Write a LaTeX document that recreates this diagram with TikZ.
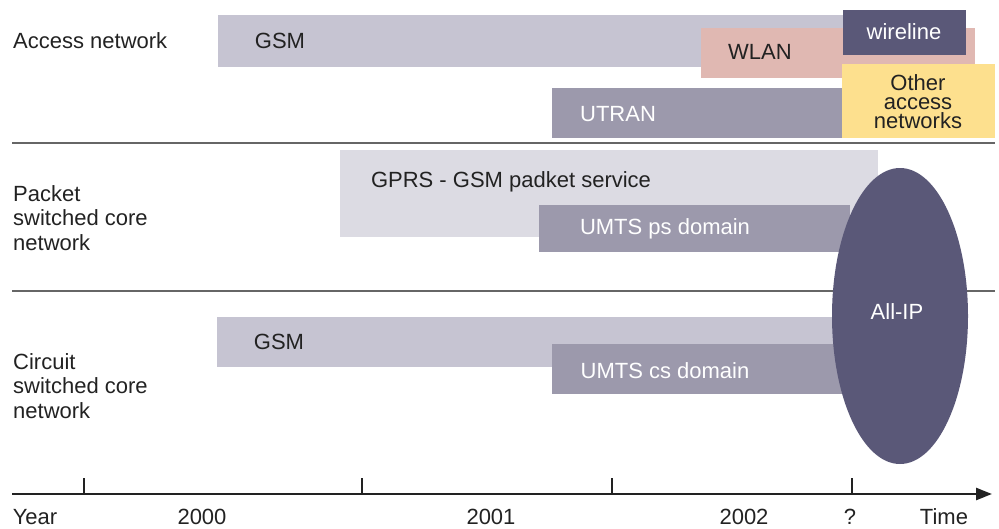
\documentclass[tikz,border=0pt]{standalone}
\usepackage{fontspec}
\setmainfont{Liberation Sans}
\usetikzlibrary{arrows.meta}
\definecolor{gsmgray}{HTML}{C6C4D2}
\definecolor{gprsgray}{HTML}{DCDBE3}
\definecolor{umtsgray}{HTML}{9C99AC}
\definecolor{wlanpink}{HTML}{E0B8B2}
\definecolor{wiredark}{HTML}{5A5878}
\definecolor{otheryel}{HTML}{FDE08E}
\definecolor{txt}{HTML}{222222}
\definecolor{sepgray}{HTML}{666666}
\begin{document}
\begin{tikzpicture}[x=1pt,y=-1pt,
  lbl/.style={font=\fontsize{22}{24}\selectfont, text=txt, inner sep=0pt},
  wlbl/.style={font=\fontsize{22}{24}\selectfont, text=white, inner sep=0pt},
  sep/.style={draw=sepgray, line width=1.5pt},
  tick/.style={draw=txt, line width=1.5pt}]
\useasboundingbox (0,0) rectangle (999,528);
% access network bars
\fill[gsmgray] (218,15) rectangle (850,67);
\fill[wlanpink] (701,28) rectangle (975,78);
\fill[wiredark] (843,10) rectangle (966,55);
\fill[umtsgray] (552,88) rectangle (842,138);
\fill[otheryel] (842,64) rectangle (995,138);
\node[lbl] (gsma) at (280,41) {GSM};
\node[lbl] (wlan) at (760,52) {WLAN};
\node[wlbl] (wire) at (904,32) {wireline};
\node[wlbl] (utran) at (618,114) {UTRAN};
\node[lbl, align=center, font=\fontsize{22}{19}\selectfont] (other) at (918,102) {Other\\access\\networks};
% separators
\draw[sep] (12,143) -- (995,143);
\draw[sep] (12,291) -- (995,291);
% packet bars
\fill[gprsgray] (340,150) rectangle (878,237);
\fill[umtsgray] (539,205) rectangle (850,252);
\node[lbl] (gprs) at (511,182) {GPRS - GSM padket service};
\node[wlbl] (umtsps) at (665,229) {UMTS ps domain};
% circuit bars
\fill[gsmgray] (217,317) rectangle (850,367);
\fill[umtsgray] (552,344) rectangle (850,394);
\node[lbl] (gsmc) at (279,342) {GSM};
\node[wlbl] (umtscs) at (665,371) {UMTS cs domain};
% All-IP ellipse
\fill[wiredark] (900,316) ellipse [x radius=68, y radius=148];
\node[wlbl] (allip) at (897,312) {All-IP};
% row labels
\node[lbl, anchor=west] (acc) at (13,41) {Access network};
\node[lbl, anchor=west, align=left, font=\fontsize{22}{24.5}\selectfont] (pkt) at (13,218) {Packet\\switched core\\network};
\node[lbl, anchor=west, align=left, font=\fontsize{22}{24.5}\selectfont] (cir) at (13,386) {Circuit\\switched core\\network};
% axis
\coordinate (a0) at (12,494);
\coordinate (a1) at (992,494);
\draw[draw=txt, line width=2.5pt, -{Triangle[length=16pt,width=12pt]}] (a0) -- (a1);
\foreach \x in {84,362,612,852}{\draw[tick] (\x,478) -- (\x,494);}
\node[lbl] (year) at (35,517) {Year};
\node[lbl] (y0) at (202,517) {2000};
\node[lbl] (y1) at (491,517) {2001};
\node[lbl] (y2) at (744,517) {2002};
\node[lbl] (q) at (850,517) {?};
\node[lbl] (time) at (944,517) {Time};
\end{tikzpicture}
\end{document}
